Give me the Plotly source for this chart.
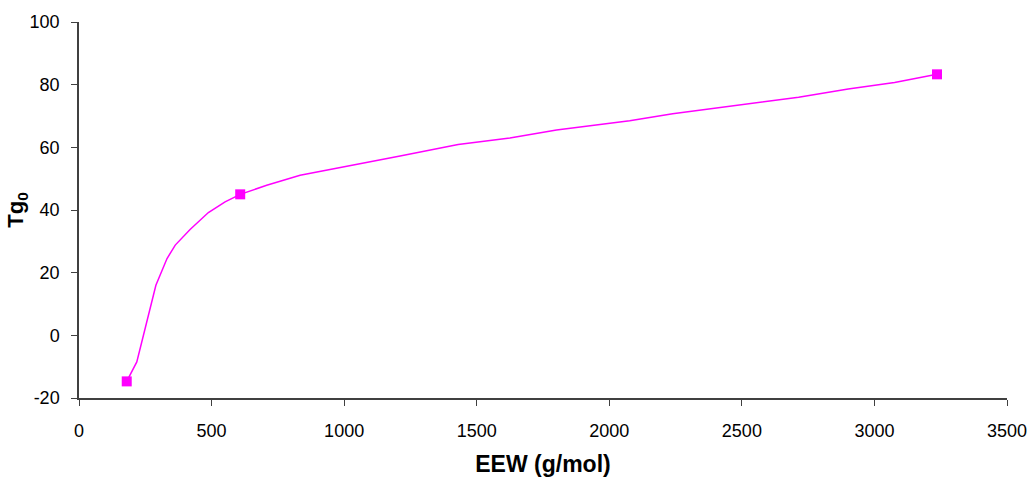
import plotly.graph_objects as go

# Measured data points (markers)
eew_points = [180, 608, 3236]
tg0_points = [-14.7, 45.0, 83.3]

# Fitted/model curve
eew_curve = [180, 218, 290, 309, 332, 363, 419, 488, 551, 608, 708, 834, 947,
             1211, 1430, 1625, 1801, 1964, 2077, 2239, 2714, 2901, 3076, 3236]
tg0_curve = [-14.7, -8.5, 16.0, 19.7, 24.5, 28.8, 33.8, 39.2, 42.6, 45.0, 47.9, 51.1, 52.9,
             57.2, 60.9, 63.0, 65.5, 67.4, 68.5, 70.7, 76.0, 78.6, 80.7, 83.3]

x_ticks = [0, 500, 1000, 1500, 2000, 2500, 3000, 3500]
y_ticks = [-20, 0, 20, 40, 60, 80, 100]

color = "#FF00FF"
axis_color = "#404040"
font_family = "Liberation Sans, Arial, sans-serif"

fig = go.Figure()
fig.add_trace(go.Scatter(x=eew_curve, y=tg0_curve, mode="lines",
                         line=dict(color=color, width=1.5), showlegend=False,
                         hoverinfo="skip"))
fig.add_trace(go.Scatter(x=eew_points, y=tg0_points, mode="markers",
                         marker=dict(symbol="square", size=10, color=color),
                         showlegend=False))

fig.update_layout(
    width=1031, height=485,
    margin=dict(l=79, r=24, t=22, b=87, autoexpand=False),
    paper_bgcolor="white", plot_bgcolor="white",
    font=dict(family=font_family, size=18, color="black"),
    xaxis=dict(
        range=[0, 3500], tickvals=x_ticks, ticktext=[str(v) for v in x_ticks],
        showgrid=False, zeroline=False, showline=True, linecolor=axis_color, linewidth=1.5,
        ticks="outside", ticklen=6, tickcolor=axis_color, tickwidth=1,
        ticklabelstandoff=10, automargin=False, ticklabeloverflow="allow",
        title=dict(text="<b>EEW (g/mol)</b>", font=dict(size=23), standoff=16),
    ),
    yaxis=dict(
        range=[-20, 100], tickvals=y_ticks, ticktext=[str(v) for v in y_ticks],
        showgrid=False, zeroline=False, showline=True, linecolor=axis_color, linewidth=1.5,
        ticks="outside", ticklen=6, tickcolor=axis_color, tickwidth=1,
        ticklabelstandoff=8, automargin=False,
        title=dict(text="<b>Tg<sub>0</sub></b>", font=dict(size=22), standoff=0),
    ),
)

fig.write_html(
    "out.html",
    config={"responsive": False, "displayModeBar": False},
    post_script="document.body.style.margin='0';document.body.style.overflow='hidden';",
)
